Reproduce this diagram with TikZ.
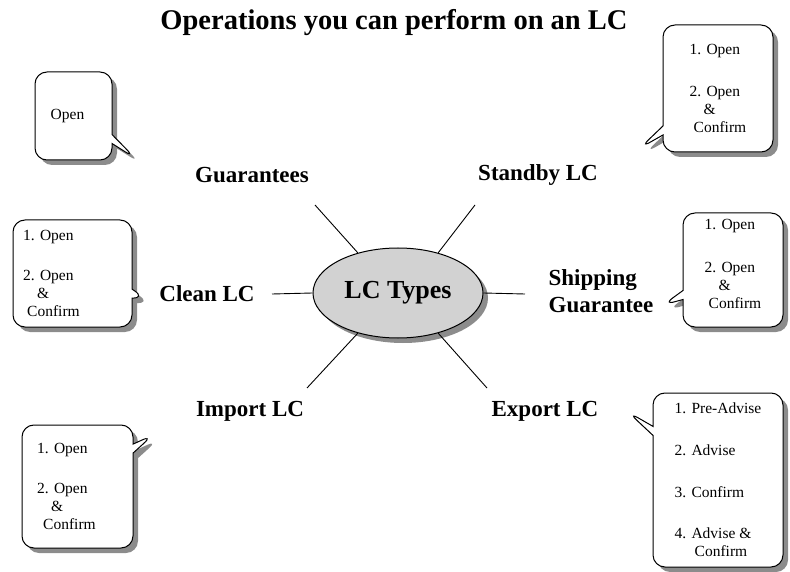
\documentclass[tikz,border=0pt]{standalone}
\usepackage{fontspec}
\setmainfont{Liberation Serif}
\usetikzlibrary{shapes.geometric, shapes.callouts, shadows}

\begin{document}
\begin{tikzpicture}[x=1pt, y=-1pt,
  kind/.style={font=\fontsize{23}{27}\selectfont\bfseries, align=left},
  bubble/.style={rectangle callout, draw, line width=1pt, rounded corners=12pt,
    fill=white, callout pointer width=9pt, inner sep=0pt,
    font=\fontsize{15.5}{18}\selectfont, align=left,
    drop shadow={shadow xshift=5pt, shadow yshift=-5pt, fill=black!45, opacity=1}},
  spoke/.style={line width=0.9pt}]

  \useasboundingbox (0,0) rectangle (790,572);

  % title
  \node[font=\fontsize{28.5}{32}\selectfont\bfseries] (title) at (394,23) {Operations you can perform on an LC};

  % centre
  \node[ellipse, draw, line width=1pt, fill=gray!35, minimum width=170pt, minimum height=90pt,
    font=\fontsize{26}{30}\selectfont\bfseries,
    drop shadow={shadow xshift=5pt, shadow yshift=-5pt, fill=black!45, opacity=1}] (ctr) at (398,293) {LC Types};

  % kinds of LC
  \node[kind] (guar) at (252,175) {Guarantees};
  \node[kind] (stby) at (538,175) {Standby LC};
  \node[kind] (clean) at (207,294) {Clean LC};
  \node[kind, align=left] (ship) at (601,291) {Shipping\\Guarantee};
  \node[kind] (imp) at (250,411) {Import LC};
  \node[kind] (exp) at (545,411) {Export LC};

  % spokes
  \coordinate (gEnd) at (315,205);
  \coordinate (sEnd) at (475,205);
  \coordinate (cEnd) at (272,294);
  \coordinate (hEnd) at (525,294);
  \coordinate (iEnd) at (307,388);
  \coordinate (eEnd) at (487,388);
  \draw[spoke] (ctr.135) -- (gEnd);
  \draw[spoke] (ctr.45) -- (sEnd);
  \draw[spoke] (ctr.180) -- (cEnd);
  \draw[spoke] (ctr.0) -- (hEnd);
  \draw[spoke] (ctr.225) -- (iEnd);
  \draw[spoke] (ctr.315) -- (eEnd);

  % operations
  \node[bubble, minimum width=77pt, minimum height=88pt, callout absolute pointer={(135,158)}]
    (opGuar) at (73.5,116) {Open\hspace*{12pt}};
  \node[bubble, minimum width=110pt, minimum height=127pt, callout absolute pointer={(640,148)}]
    (opStby) at (718,88.5) {1. Open\\[24pt]2. Open\\\hspace*{14pt}\&\\\hspace*{4pt}Confirm};
  \node[bubble, minimum width=119pt, minimum height=107pt, callout absolute pointer={(145,298)}]
    (opClean) at (72.5,273.5) {1. Open\\[22pt]2. Open\\\hspace*{14pt}\&\\\hspace*{4pt}Confirm\hspace*{42pt}};
  \node[bubble, minimum width=100pt, minimum height=114pt, callout absolute pointer={(663,305)}]
    (opShip) at (733,270) {1. Open\\[25pt]2. Open\\\hspace*{14pt}\&\\\hspace*{4pt}Confirm\\[-6pt]};
  \node[bubble, minimum width=111pt, minimum height=123pt, callout absolute pointer={(153,435)}]
    (opImp) at (77.5,486.5) {1. Open\\[22pt]2. Open\\\hspace*{14pt}\&\\\hspace*{6pt}Confirm\hspace*{22pt}};
  \node[bubble, minimum width=130pt, minimum height=174pt, callout absolute pointer={(628,412)}]
    (opExp) at (718,480) {1. Pre-Advise\\[24pt]2. Advise\\[24pt]3. Confirm\\[23pt]4. Advise \&\\\hspace*{20pt}Confirm};
\end{tikzpicture}
\end{document}
